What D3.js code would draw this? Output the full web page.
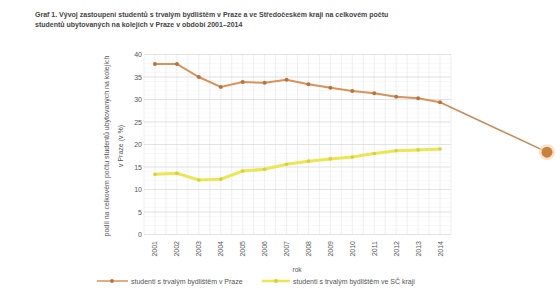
<!DOCTYPE html>
<html><head><meta charset="utf-8">
<script src="https://cdn.jsdelivr.net/npm/d3@7"></script>
<style>body{margin:0;background:#fff}svg{display:block}text{font-family:"Liberation Sans",Arial,sans-serif}</style>
</head><body>
<script>
const years = ["2001","2002","2003","2004","2005","2006","2007","2008","2009","2010","2011","2012","2013","2014"];
const prague = [37.9,37.9,35.0,32.8,33.9,33.7,34.4,33.4,32.6,31.9,31.4,30.6,30.3,29.4];
const central = [13.4,13.6,12.1,12.3,14.1,14.5,15.6,16.3,16.8,17.2,18.0,18.6,18.8,19.0];
const yTicks = [0,5,10,15,20,25,30,35,40];
const extraPoint = {value: 18.3};
const seriesNames = ["studenti s trvalým bydlištěm v Praze","studenti s trvalým bydlištěm ve SČ kraji"];
const titleLines = ["Graf 1. Vývoj zastoupení studentů s trvalým bydlištěm v Praze a ve Středočeském kraji na celkovém počtu","studentů ubytovaných na kolejích v Praze v období 2001–2014"];

const W=560,H=291;
const svg=d3.select("body").append("svg").attr("width",W).attr("height",H);
const x=d3.scaleBand().domain(years).range([144,451]);
const y=d3.scaleLinear().domain([0,40]).range([234.5,54.5]);
const cx=d=>x(d)+x.bandwidth()/2;

// title
svg.append("g").selectAll("text").data(titleLines).join("text")
  .attr("x",35).attr("y",(d,i)=>17+i*10).attr("font-size",7).attr("font-weight","bold").attr("fill","#444").text(d=>d);

// grid
const g=svg.append("g");
const minor=d3.range(0,40.01,1);
g.selectAll(".hm").data(minor).join("line").attr("x1",144).attr("x2",451).attr("y1",d=>y(d)).attr("y2",d=>y(d)).attr("stroke","#f0f0f0").attr("stroke-width",0.5);
const vlines=[];years.forEach(d=>{vlines.push(x(d));vlines.push(cx(d));});vlines.push(451);
g.selectAll(".v").data(vlines).join("line").attr("x1",d=>d).attr("x2",d=>d).attr("y1",y(40)).attr("y2",y(0)).attr("stroke","#e4e4e4").attr("stroke-width",0.6);
g.selectAll(".h").data(yTicks).join("line").attr("x1",144).attr("x2",451).attr("y1",d=>y(d)).attr("y2",d=>y(d)).attr("stroke","#d8d8d8").attr("stroke-width",0.7);

// y labels
svg.append("g").selectAll("text").data(yTicks).join("text").attr("x",142).attr("y",d=>y(d)+2.5).attr("text-anchor","end").attr("font-size",7).attr("fill","#555").text(d=>d);
// x labels
svg.append("g").selectAll("text").data(years).join("text")
  .attr("transform",d=>`translate(${cx(d)+2.5},${241}) rotate(-90)`).attr("text-anchor","end").attr("font-size",7).attr("fill","#555").text(d=>d);
svg.append("text").attr("x",297).attr("y",272).attr("text-anchor","middle").attr("font-size",6.5).attr("fill","#555").text("rok");
// y title
svg.append("text").attr("transform","translate(109,146) rotate(-90)").attr("text-anchor","middle").attr("font-size",7).attr("fill","#555").text("podíl na celkovém počtu studentů ubytovaných na kolejích");
svg.append("text").attr("transform","translate(123,146) rotate(-90)").attr("text-anchor","middle").attr("font-size",7).attr("fill","#555").text("v Praze (v %)");

// extra annotation
const lastX=cx(years[years.length-1]);
svg.append("line").attr("x1",lastX).attr("y1",y(prague[prague.length-1])).attr("x2",547).attr("y2",y(extraPoint.value)).attr("stroke","#c98a55").attr("stroke-width",1.5);
svg.append("circle").attr("cx",547).attr("cy",y(extraPoint.value)).attr("r",8).attr("fill","#f6d9b3").attr("opacity",0.7);
svg.append("circle").attr("cx",547).attr("cy",y(extraPoint.value)).attr("r",5.5).attr("fill","#c9823e");

// lines
const line=d3.line().x((d,i)=>cx(years[i])).y(d=>y(d));
svg.append("path").datum(central).attr("d",line).attr("fill","none").attr("stroke","#ece655").attr("stroke-width",3);
svg.append("g").selectAll("circle").data(central).join("circle").attr("cx",(d,i)=>cx(years[i])).attr("cy",d=>y(d)).attr("r",1.8).attr("fill","#d8cf3a");
svg.append("path").datum(prague).attr("d",line).attr("fill","none").attr("stroke","#d9925a").attr("stroke-width",2);
svg.append("g").selectAll("circle").data(prague).join("circle").attr("cx",(d,i)=>cx(years[i])).attr("cy",d=>y(d)).attr("r",2).attr("fill","#b9733a");

// legend
const lg=svg.append("g");
lg.append("line").attr("x1",97).attr("x2",128).attr("y1",281).attr("y2",281).attr("stroke","#d9925a").attr("stroke-width",1.5);
lg.append("circle").attr("cx",112).attr("cy",281).attr("r",2).attr("fill","#b9733a");
lg.append("text").attr("x",131).attr("y",283.5).attr("font-size",7).attr("fill","#555").text(seriesNames[0]);
lg.append("line").attr("x1",262).attr("x2",290).attr("y1",281).attr("y2",281).attr("stroke","#ece655").attr("stroke-width",2.5);
lg.append("circle").attr("cx",276).attr("cy",281).attr("r",2).attr("fill","#d8cf3a");
lg.append("text").attr("x",293).attr("y",283.5).attr("font-size",7).attr("fill","#555").text(seriesNames[1]);
</script>
</body></html>
